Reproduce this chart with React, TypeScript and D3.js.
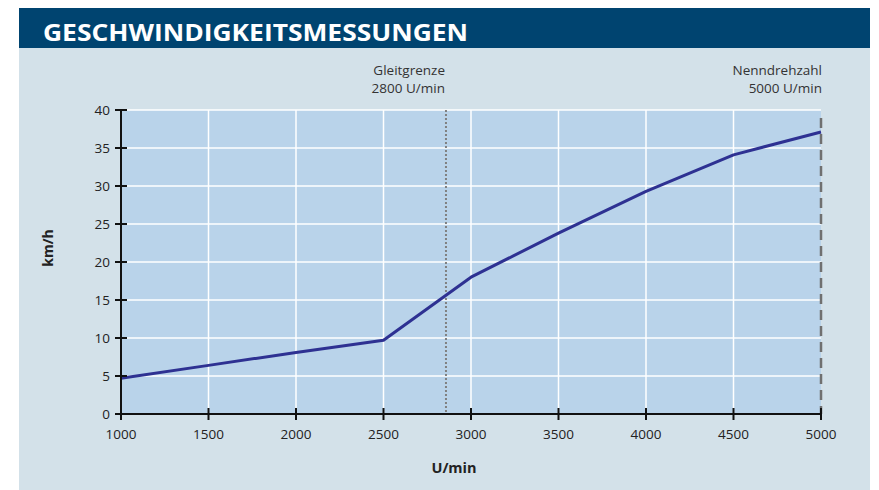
import React from "react";
import * as d3 from "d3";

const rpm = [1000, 1500, 2000, 2500, 3000, 3500, 4000, 4500, 5000];
const speed = [4.7, 6.4, 8.1, 9.7, 18.0, 23.8, 29.3, 34.1, 37.1];
const xTicks = [1000, 1500, 2000, 2500, 3000, 3500, 4000, 4500, 5000];
const yTicks = [0, 5, 10, 15, 20, 25, 30, 35, 40];
const glideLimit = 2857;
const ratedSpeed = 5000;
const title = "GESCHWINDIGKEITSMESSUNGEN";
const glideLabel = ["Gleitgrenze", "2800 U/min"];
const ratedLabel = ["Nenndrehzahl", "5000 U/min"];

export default function App() {
  const W = 879, H = 490;
  const left = 121, right = 821, top = 110, bottom = 414;
  const x = d3.scaleLinear().domain([1000, 5000]).range([left, right]);
  const y = d3.scaleLinear().domain([0, 40]).range([bottom, top]);
  const line = d3.line<number>().x((_, i) => x(rpm[i])).y((d) => y(d));
  const font = "'Open Sans', 'Noto Sans', sans-serif";
  return (
    <svg width={W} height={H} style={{ position: "absolute", left: 0, top: 0 }} fontFamily={font}>
      <rect x={0} y={0} width={W} height={H} fill="#ffffff" />
      <rect x={19} y={48} width={851} height={442} fill="#d3e1e9" />
      <rect x={19} y={8} width={851} height={40} fill="#004470" />
      <text x={43} y={41} fill="#fff" fontWeight="bold" fontSize={24} textLength={425} lengthAdjust="spacingAndGlyphs">{title}</text>
      <rect x={left} y={top} width={right - left} height={bottom - top} fill="#b9d3ea" />
      {yTicks.filter((t) => t > 0).map((t) => (
        <line key={"gy" + t} x1={left} x2={right} y1={y(t)} y2={y(t)} stroke="#ffffff" strokeWidth={1.5} />
      ))}
      {xTicks.filter((t) => t > 1000 && t < 5000).map((t) => (
        <line key={"gx" + t} x1={x(t)} x2={x(t)} y1={top} y2={bottom} stroke="#ffffff" strokeWidth={1.5} />
      ))}
      <line x1={x(glideLimit)} x2={x(glideLimit)} y1={top} y2={bottom} stroke="#808080" strokeWidth={2} strokeDasharray="2,2" />
      <line x1={x(ratedSpeed)} x2={x(ratedSpeed)} y1={top + 8} y2={bottom} stroke="#707070" strokeWidth={2.5} strokeDasharray="10,6" />
      <path d={line(speed) || ""} fill="none" stroke="#2e3192" strokeWidth={3} strokeLinejoin="round" />
      <line x1={left} x2={left} y1={top} y2={bottom} stroke="#111" strokeWidth={2} />
      <line x1={left} x2={right} y1={bottom} y2={bottom} stroke="#111" strokeWidth={2} />
      {yTicks.map((t) => (
        <g key={"ty" + t}>
          <line x1={left - 6} x2={left + 6} y1={y(t)} y2={y(t)} stroke="#111" strokeWidth={2} />
          <text x={left - 11} y={y(t) + 5} textAnchor="end" fontSize={13.5} fill="#222">{t}</text>
        </g>
      ))}
      {xTicks.map((t) => (
        <g key={"tx" + t}>
          <line x1={x(t)} x2={x(t)} y1={bottom - 6} y2={bottom + 6} stroke="#111" strokeWidth={2} />
          <text x={x(t)} y={bottom + 25} textAnchor="middle" fontSize={13.5} fill="#222">{t}</text>
        </g>
      ))}
      <text x={454} y={473} textAnchor="middle" fontSize={14.5} fontWeight="bold" fill="#222">U/min</text>
      <text transform={`translate(53,248) rotate(-90)`} textAnchor="middle" fontSize={14} fontWeight="bold" fill="#222">km/h</text>
      {glideLabel.map((s, i) => (
        <text key={"g" + i} x={x(glideLimit) - 1} y={75 + i * 18} textAnchor="end" fontSize={13.5} fill="#333">{s}</text>
      ))}
      {ratedLabel.map((s, i) => (
        <text key={"r" + i} x={x(ratedSpeed) + 1} y={75 + i * 18} textAnchor="end" fontSize={13.5} fill="#333">{s}</text>
      ))}
    </svg>
  );
}
